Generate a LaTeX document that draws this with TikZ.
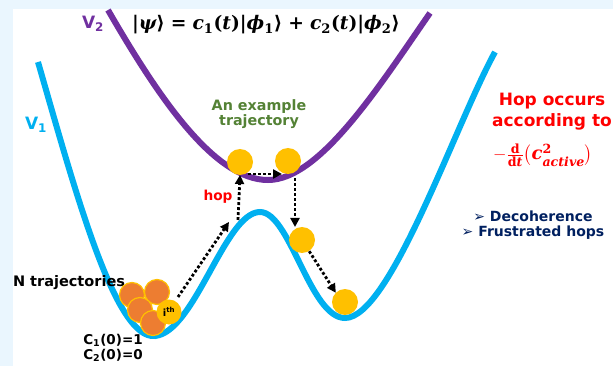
\documentclass[tikz,border=0pt]{standalone}
\usepackage{amsmath}
\usepackage[no-math]{fontspec}
\setmainfont{DejaVu Sans}
\newfontfamily\eqfont{DejaVu Serif}
\newfontfamily\brfont{DejaVu Sans}
\usetikzlibrary{arrows.meta}
\definecolor{cyan1}{HTML}{00B0F0}
\definecolor{purple1}{HTML}{7030A0}
\definecolor{gold1}{HTML}{FFC000}
\definecolor{orange1}{HTML}{ED7D31}
\definecolor{green1}{HTML}{548235}
\definecolor{navy1}{HTML}{002060}
\definecolor{bgblue}{HTML}{EAF6FE}
\newcommand{\eu}[1]{{\eqfont\bfseries\upshape #1}}
\newcommand{\ei}[1]{{\eqfont\bfseries\itshape #1}}
\newcommand{\ket}[1]{\eu{|}#1{\brfont\bfseries ⟩}}
\newcommand{\eqtext}{\ket{\ei{ψ}}\ \eu{=}\ \ei{c}\textsubscript{\eu{1}}\eu{(}\ei{t}\eu{)}\ket{\ei{ϕ}\textsubscript{\eu{1}}}\ \eu{+}\ \ei{c}\textsubscript{\eu{2}}\eu{(}\ei{t}\eu{)}\ket{\ei{ϕ}\textsubscript{\eu{2}}}}
\newcommand{\formtext}{$-\frac{\text{\eu{d}}}{\text{\eu{d}\ei{t}}}\bigl(\text{\ei{c}}^{\text{\eu{2}}}_{\text{\ei{active}}}\bigr)$}
\begin{document}
\begin{tikzpicture}[x=1pt,y=-1pt,
  every node/.style={inner sep=0pt, outer sep=0pt},
  ball/.style={circle, fill=gold1, minimum size=26pt},
  oball/.style={circle, fill=orange1, draw=gold1, line width=1.2pt, minimum size=25pt},
  hoparrow/.style={line width=2.8pt, dash pattern=on 2.8pt off 2.2pt, -{Triangle[length=9pt,width=9pt]}},
  curve/.style={line width=6pt},
  lbl/.style={font=\fontsize{#1}{#1}\selectfont\bfseries, align=center},
  mth/.style={font=\fontsize{#1}{#1}\selectfont}
]
\useasboundingbox (0,0) rectangle (613,366);
\fill[bgblue] (0,0) rectangle (613,366);
\fill[white] (13,9) rectangle (613,366);

% potential curves
\draw[curve, cyan1] (38,62) .. controls (75,190) and (115,340) .. (155,336)
  .. controls (195,332) and (225,212) .. (260,212)
  .. controls (290,212) and (310,318) .. (345,318)
  .. controls (390,318) and (455,125) .. (495,52);
\draw[curve, purple1] (108,10) .. controls (160,100) and (215,180) .. (268,180)
  .. controls (320,180) and (380,85) .. (430,13);

% labels
\node[lbl=17, text=purple1] (v2) at (93,24) {V\textsubscript{2}};
\node[lbl=17, text=cyan1] (v1) at (36,125) {V\textsubscript{1}};
\node[mth=18.7] (eq) at (266,25) {\eqtext};
\node[lbl=14.3, text=green1] (ex) at (259,114) {An example\\[1pt]trajectory};
\node[lbl=17, text=red] (hopt) at (552,112) {Hop occurs\\[4pt]according to};
\node[mth=18, text=red] (form) at (543,155) {\formtext};
\node[lbl=14, text=navy1] (dec) at (533,225) {➢ Decoherence\\[1pt]➢ Frustrated hops};
\node[lbl=14.5] (nt) at (69,283) {N trajectories};
\node[lbl=13.5] (c0) at (113,348) {C\textsubscript{1}(0)=1\\[1pt]C\textsubscript{2}(0)=0};
\node[lbl=13.7, text=red] (hop) at (218,197) {hop};

% trajectory balls
\node[oball] (o1) at (132,295) {};
\node[oball] (o2) at (157,292) {};
\node[oball] (o3) at (140,310) {};
\node[oball] (o4) at (153,323) {};
\node[ball, minimum size=25pt] (ith) at (169,312) {\fontsize{10}{10}\selectfont\bfseries i\textsuperscript{th}};

\node[ball] (b1) at (240,162) {};
\node[ball] (b2) at (288,161) {};
\node[ball] (b3) at (302,240) {};
\node[ball] (b4) at (345,302) {};

% arrows
\coordinate (a1s) at (178,297);
\coordinate (a1e) at (229,222);
\coordinate (a2s) at (238,220);
\coordinate (a3s) at (248,174);
\coordinate (a3e) at (282,174);
\coordinate (a4s) at (295,178);
\draw[hoparrow] (a1s) -- (a1e);
\draw[hoparrow] (a2s) -- (b1.south);
\draw[hoparrow] (a3s) -- (a3e);
\draw[hoparrow] (a4s) -- (b3.north -| a4s);
\draw[hoparrow] (b3.south east) ++(-2,2) coordinate (a5s) -- (b4.north west);
\end{tikzpicture}
\end{document}
